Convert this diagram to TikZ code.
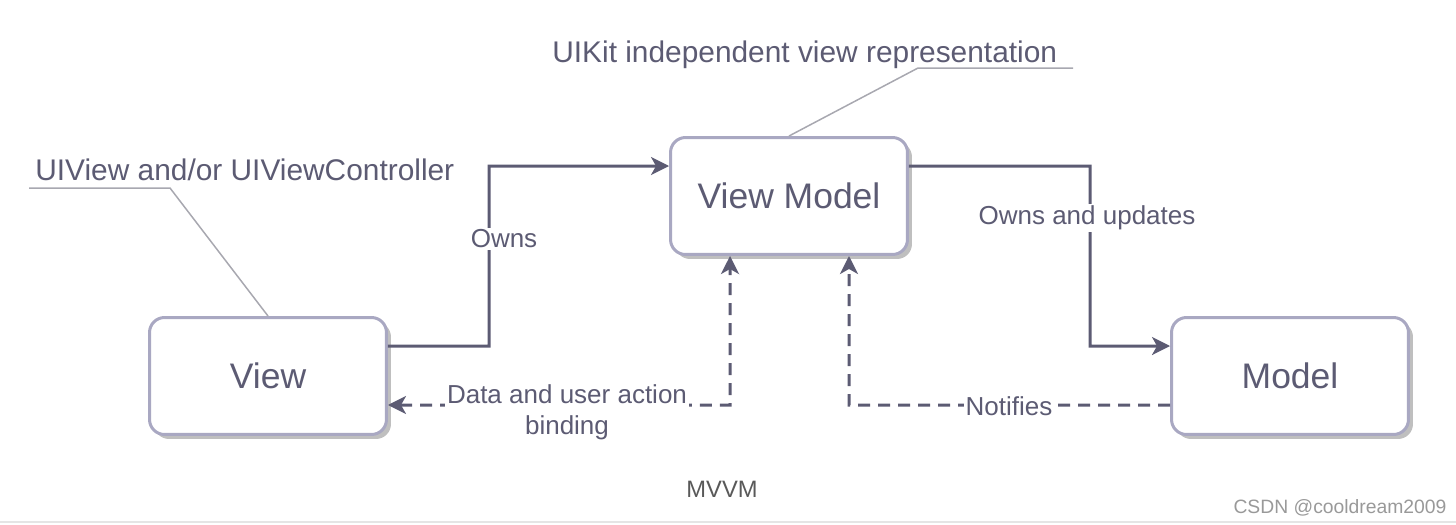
\documentclass[tikz,border=0pt]{standalone}
\usepackage{fontspec}
\setmainfont{Liberation Sans}
\usetikzlibrary{arrows.meta,shadows}
\definecolor{boxline}{HTML}{A9A8C2}
\definecolor{ink}{HTML}{5C5B73}
\definecolor{noteline}{HTML}{A8A8B0}

\begin{document}
\begin{tikzpicture}[x=0.02cm,y=-0.02cm,
    block/.style={draw=boxline,line width=0.06cm,fill=white,rounded corners=0.3cm,
      minimum width=4.74cm,minimum height=2.34cm,text=ink,font=\fontsize{20.2}{24}\selectfont,
      drop shadow={shadow xshift=0.09cm,shadow yshift=-0.09cm,fill=black!25,opacity=1}},
    owns/.style={draw=ink,line width=0.06cm,-{Stealth[length=0.36cm,width=0.36cm,inset=0.1cm]}},
    bind/.style={owns,dash pattern=on 0.24cm off 0.16cm},
    lbl/.style={fill=white,text=ink,font=\fontsize{14.8}{17.5}\selectfont,inner sep=1pt},
    note/.style={text=ink,font=\fontsize{17}{20}\selectfont,inner sep=0pt,anchor=base west},
    noteline/.style={draw=noteline,line width=0.03cm}]
  \useasboundingbox (0,0) rectangle (1456,524);
  % boxes
  \node[block](view)at(268,376){View};
  \node[block](vm)at(789,196){View Model};
  \node[block](model)at(1290,376){Model};
  % ownership
  \draw[owns]([yshift=0.6cm]view.east)--(489,346)--(489,166)--([yshift=0.6cm]vm.west);
  \draw[owns]([yshift=0.6cm]vm.east)--(1090,166)--(1090,346)--([yshift=0.6cm]model.west);
  \node[lbl](ownsl)at(504,239){Owns};
  \node[lbl](updl)at(1087,218){Owns and updates};
  % binding and notifications
  \draw[bind,{Stealth[length=0.36cm,width=0.36cm,inset=0.1cm]}-{Stealth[length=0.36cm,width=0.36cm,inset=0.1cm]}]
    ([yshift=-0.58cm]view.east)--(730,405)--([xshift=-1.18cm]vm.south);
  \draw[bind]([yshift=-0.58cm]model.west)--(849,405)--([xshift=1.2cm]vm.south);
  \node[lbl,align=center](bindl)at(567,412){Data and user action\\binding};
  \node[lbl](notl)at(1009,406){Notifies};
  % notes
  \node[note](viewnote)at(35,180){UIView and/or UIViewController};
  \draw[noteline](29,188)--(170,188)--(view.north);
  \node[note](vmnote)at(552,62){UIKit independent view representation};
  \draw[noteline](1073,68)--(918,68)--(vm.north);
  % caption
  \node[text=black!65,font=\fontsize{13.5}{16}\selectfont](caption)at(722,489){MVVM};
  \node[text=black!40,font=\fontsize{11}{13}\selectfont](mark)at(1340,508){CSDN @cooldream2009};
  \draw[black!10,line width=0.04cm](0,522)--(1456,522);
\end{tikzpicture}
\end{document}
